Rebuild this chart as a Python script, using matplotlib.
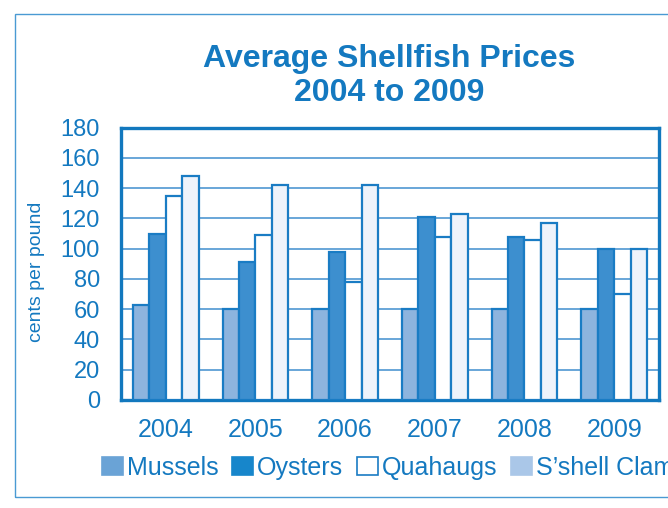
import matplotlib
matplotlib.use('Agg')
import matplotlib.pyplot as plt
from matplotlib.patches import Rectangle, Patch
import numpy as np

plt.rcParams['font.family'] = ['Liberation Sans', 'DejaVu Sans']

years = ['2004', '2005', '2006', '2007', '2008', '2009']
mussels = [63, 60, 60, 60, 60, 60]
oysters = [110, 91, 98, 121, 108, 100]
quahaugs = [135, 109, 78, 108, 106, 70]
clams = [148, 142, 142, 123, 117, 100]

series_names = ['Mussels', 'Oysters', 'Quahaugs', "S\u2019shell Clam"]
bar_colors = ['#8db4de', '#3d8fcf', '#ffffff', '#eef3fb']
legend_colors = ['#6aa3d6', '#1786cb', '#ffffff', '#aac7e8']
blue = '#1479c0'
edge = '#1a7cc4'

fig = plt.figure(figsize=(6.68, 5.08), dpi=100)
ax = fig.add_axes([0.181, 0.2126, 0.8055, 0.5362])

x = np.arange(len(years))
w = 0.183
for i, (vals, col) in enumerate(zip([mussels, oysters, quahaugs, clams], bar_colors)):
    ax.bar(x + (i - 1.5) * w, vals, width=w, color=col, edgecolor=edge,
           linewidth=1.6, zorder=3)

ax.set_xlim(-0.5, 5.5)
ax.set_ylim(0, 180)
ax.set_yticks(range(0, 181, 20))
ax.set_xticks(x)
ax.set_xticklabels(years)
ax.grid(axis='y', color='#5d9fd5', linewidth=1.3, zorder=0)
ax.tick_params(length=0, labelcolor=blue)
ax.tick_params(axis='y', pad=15, labelsize=17)
ax.tick_params(axis='x', pad=13, labelsize=18)
for s in ax.spines.values():
    s.set_color('#1278be')
    s.set_linewidth(2.4)

fig.text(0.055, 0.465, 'cents per pound', rotation=90, ha='center', va='center',
         color=blue, fontsize=14)

fig.text(0.583, 0.85, 'Average Shellfish Prices\n2004 to 2009', ha='center',
         va='center', color=blue, fontsize=23, fontweight='bold', linespacing=1.15)

# outer frame
fig.patches.append(Rectangle((0.0225, 0.0217), 1.2, 0.951, transform=fig.transFigure,
                             fill=False, edgecolor='#4a9ad3', linewidth=1.0))

handles = [Patch(facecolor=c, edgecolor=(edge if c == '#ffffff' else c), linewidth=1.2)
           for c in legend_colors]
fig.legend(handles, series_names, loc='center left', bbox_to_anchor=(0.152, 0.079),
           ncol=4, frameon=False, fontsize=18, handlelength=0.85, handleheight=0.7,
           handletextpad=0.15, columnspacing=0.55, borderpad=0, borderaxespad=0,
           labelcolor=blue)

fig.savefig('out.png', dpi=100)
